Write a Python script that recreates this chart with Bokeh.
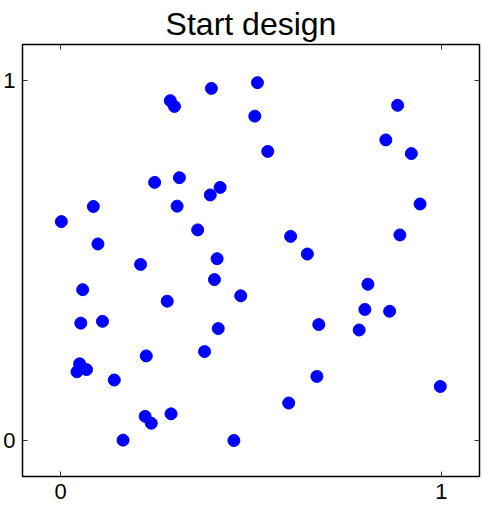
from bokeh.plotting import figure
from bokeh.models import LinearAxis, FixedTicker, Range1d, CustomJSTickFormatter
from bokeh.embed import file_html
from bokeh.resources import INLINE

x_vals = [0.396, 0.288, 0.299, 0.247, 0.312, 0.419, 0.393, 0.086, 0.306, 0.002,
          0.360, 0.098, 0.517, 0.510, 0.885, 0.854, 0.544, 0.921, 0.944, 0.891,
          0.604, 0.648, 0.210, 0.411, 0.404, 0.058, 0.280, 0.473, 0.053, 0.110,
          0.414, 0.378, 0.225, 0.050, 0.068, 0.043, 0.141, 0.222, 0.238, 0.290,
          0.164, 0.455, 0.807, 0.799, 0.864, 0.678, 0.784, 0.673, 0.997, 0.599]
y_vals = [0.978, 0.944, 0.928, 0.717, 0.730, 0.703, 0.682, 0.650, 0.651, 0.608,
          0.585, 0.546, 0.994, 0.901, 0.931, 0.835, 0.803, 0.797, 0.657, 0.571,
          0.567, 0.518, 0.489, 0.505, 0.447, 0.419, 0.387, 0.402, 0.326, 0.331,
          0.311, 0.247, 0.235, 0.213, 0.197, 0.191, 0.168, 0.067, 0.048, 0.074,
          0.001, 0.000, 0.434, 0.364, 0.359, 0.322, 0.307, 0.178, 0.150, 0.104]
tick_values = [0, 1]
title_text = "Start design"

FONT = "Liberation Sans"

p = figure(width=481, height=506, output_backend="svg", toolbar_location=None,
           x_range=Range1d(-0.1, 1.1), y_range=Range1d(-0.1, 1.1),
           title=title_text, x_axis_location=None, y_axis_location=None,
           min_border_left=0, min_border_right=2, min_border_top=0, min_border_bottom=30)

p.title.text_font = FONT
p.title.text_font_size = "32px"
p.title.text_font_style = "normal"
p.title.align = "center"
p.title.text_color = "black"
p.title.standoff = 6

p.grid.visible = False
p.outline_line_color = "black"
p.outline_line_width = 1.5
p.background_fill_color = "white"
p.border_fill_color = "white"

def make_axis(labels=True):
    ax = LinearAxis(ticker=FixedTicker(ticks=tick_values))
    ax.axis_line_color = None
    ax.major_tick_in = 5
    ax.major_tick_out = 0
    ax.major_tick_line_color = "#333333"
    ax.major_tick_line_width = 1
    ax.minor_tick_line_color = None
    if labels:
        ax.major_label_text_font = FONT
        ax.major_label_text_font_size = "22px"
        ax.major_label_text_color = "black"
        ax.major_label_standoff = 7
    else:
        ax.formatter = CustomJSTickFormatter(code="return ''")
        ax.major_label_text_font_size = "0px"
        ax.major_label_standoff = 0
    return ax

p.add_layout(make_axis(True), "below")
p.add_layout(make_axis(True), "left")
p.add_layout(make_axis(False), "above")
p.add_layout(make_axis(False), "right")

p.scatter(x_vals, y_vals, size=12, marker="circle", fill_color="#0000ff", line_color="#0000ff")

open("out.html", "w").write(file_html(p, INLINE))
